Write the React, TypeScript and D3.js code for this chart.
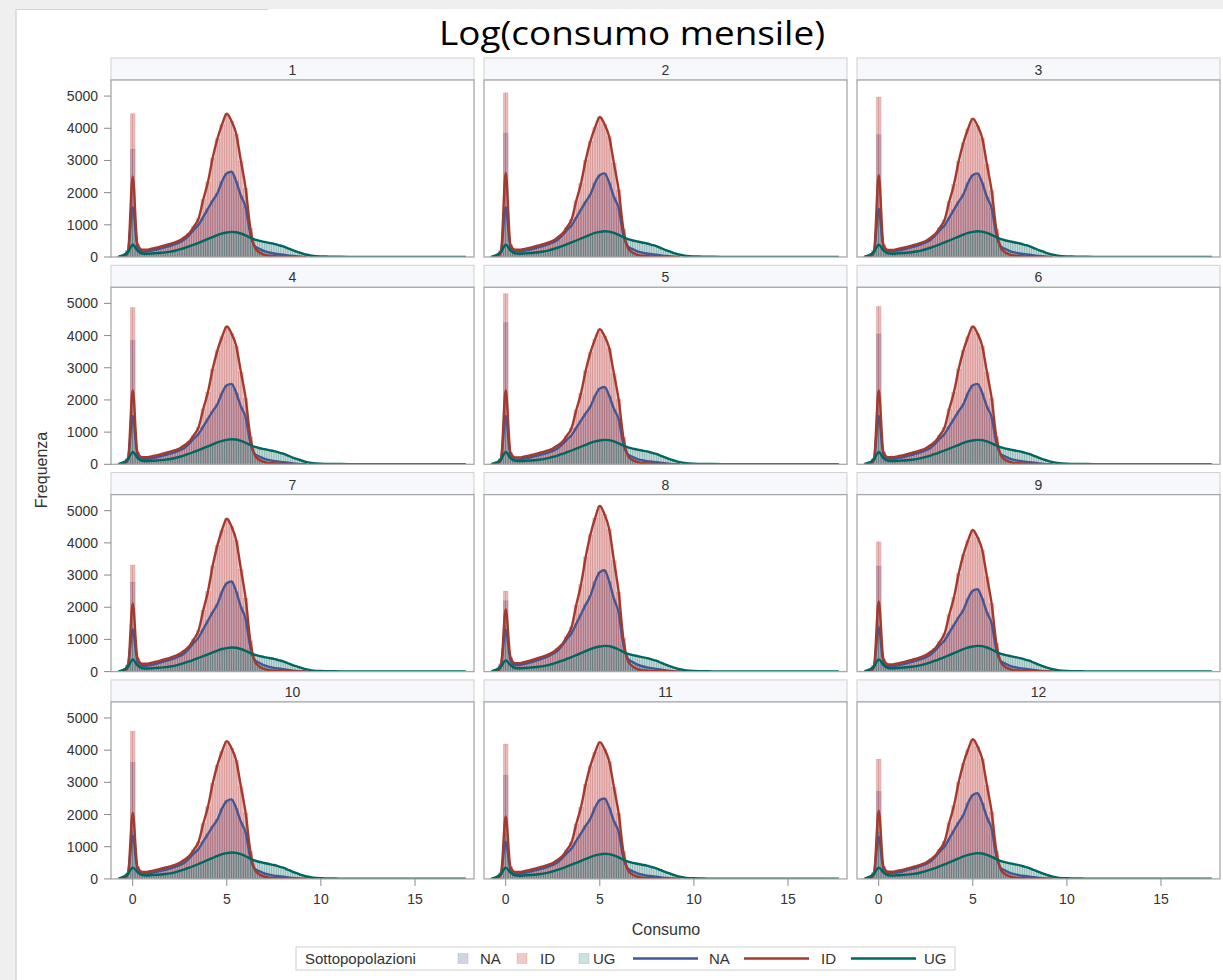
import React from "react";
import * as d3 from "d3";

// ---------------- DATA ----------------
const panels = ["1", "2", "3", "4", "5", "6", "7", "8", "9", "10", "11", "12"];

// histogram bins (panel-1 shape), first bin centred at binStart, width binWidth
const binStart = -0.75;
const binWidth = 0.25;
const spikeIndex = 3; // the bin at Consumo = 0

const idShape = [0, 0, 150, 4450, 400, 230, 230, 260, 290, 330, 370, 410, 460, 520, 620, 740, 950, 1200, 1800, 2350, 3100, 3700, 4150, 4480, 4250, 3850, 3000, 2150, 900, 280, 140, 70, 40, 30, 20, 15, 10, 8, 5, 3, 0];
const naShape = [0, 30, 200, 3350, 300, 170, 170, 200, 230, 270, 310, 350, 400, 460, 540, 680, 850, 1000, 1250, 1500, 1750, 1980, 2350, 2600, 2650, 2350, 1900, 1550, 700, 330, 250, 180, 140, 110, 90, 70, 50, 30, 15, 5, 0];
const ugShape = [10, 60, 150, 1400, 200, 110, 100, 110, 120, 130, 145, 165, 195, 235, 280, 330, 385, 440, 500, 560, 620, 680, 730, 760, 780, 770, 730, 670, 600, 540, 500, 470, 440, 410, 370, 330, 270, 210, 160, 110, 70, 40, 25, 18, 14, 12, 10, 8];
const ugTailX = [11.5, 13, 15, 17.7];
const ugTailV = [5, 4, 3, 3];

// per-panel values
const idSpikeBar = [4450, 5100, 4970, 4870, 5300, 4900, 3310, 2500, 4030, 4590, 4190, 3720];
const naSpikeBar = [3350, 3850, 3800, 3850, 4400, 4050, 2780, 2200, 3280, 3620, 3220, 2720];
const idSpikeLine = [2500, 2620, 2550, 2300, 2300, 2300, 2120, 1940, 2190, 2060, 1940, 2120];
const naSpikeLine = [1550, 1550, 1500, 1500, 1500, 1500, 1310, 1300, 1370, 1340, 1160, 1310];
const ugSpikeLine = [380, 380, 380, 380, 380, 380, 380, 350, 380, 350, 350, 350];
const idPeak = [4450, 4350, 4300, 4280, 4200, 4280, 4750, 5150, 4400, 4280, 4250, 4340];
const naPeak = [2650, 2600, 2600, 2500, 2400, 2500, 2800, 3150, 2560, 2470, 2500, 2660];
const ugPeak = [780, 800, 800, 780, 760, 760, 750, 800, 800, 820, 780, 800];

const yTicks = [0, 1000, 2000, 3000, 4000, 5000];
const xTicks = [0, 5, 10, 15];

// ---------------- STYLE ----------------
const lineColor: Record<string, string> = { NA: "#445694", ID: "#A23A2E", UG: "#01665E" };
const fillColor: Record<string, string> = { NA: "#6F7EB3", ID: "#D05B5B", UG: "#66A5A0" };
const FONT = "'Liberation Sans', Arial, sans-serif";
const W = 1223;
const H = 980;
const colLeft = [111, 484, 857];
const panelW = 363;
const headerTop0 = 58;
const rowStep = 207.3;
const headerH = 22;
const plotH = 177;

type Series = { name: string; bars: number[]; line: [number, number][] };

function build(p: number): Series[] {
  const mk = (name: string, shape: number[], peak: number, spikeBar: number | null, spikeLine: number) => {
    const ref = d3.max(shape.filter((_, i) => i !== spikeIndex)) as number;
    const k = peak / ref;
    const bars = shape.map((v, i) => (i === spikeIndex ? (spikeBar === null ? v * k : spikeBar) : v * k));
    const line: [number, number][] = shape.map((v, i) => [binStart + i * binWidth, i === spikeIndex ? spikeLine : v * k]);
    return { name, bars, line };
  };
  const na = mk("NA", naShape, naPeak[p], naSpikeBar[p], naSpikeLine[p]);
  const id = mk("ID", idShape, idPeak[p], idSpikeBar[p], idSpikeLine[p]);
  const ug = mk("UG", ugShape, ugPeak[p], null, ugSpikeLine[p]);
  const kUg = ugPeak[p] / (d3.max(ugShape.filter((_, i) => i !== spikeIndex)) as number);
  ugTailX.forEach((x, i) => ug.line.push([x, ugTailV[i] * kUg]));
  return [na, id, ug];
}

const x = d3.scaleLinear().domain([-1.153, 18.135]).range([0, panelW]);
const y = d3.scaleLinear().domain([0, 5500]).range([plotH, 0]);
const lineGen = d3
  .line<[number, number]>()
  .x((d) => x(d[0]))
  .y((d) => y(d[1]))
  .curve(d3.curveMonotoneX);

function Panel({ p }: { p: number }) {
  const col = p % 3;
  const row = Math.floor(p / 3);
  const left = colLeft[col];
  const top = headerTop0 + row * rowStep;
  const plotTop = top + headerH;
  const data = build(p);
  const clipId = `clip${p}`;
  return (
    <g>
      <rect x={left} y={top} width={panelW} height={headerH} fill="#f7f8fc" stroke="#cfcfcf" strokeWidth={1} />
      <text x={left + panelW / 2} y={top + headerH / 2 + 1} textAnchor="middle" dominantBaseline="central" fontFamily={FONT} fontSize={14} fill="#333">
        {panels[p]}
      </text>
      <g transform={`translate(${left},${plotTop})`}>
        <defs>
          <clipPath id={clipId}>
            <rect x={0} y={0} width={panelW} height={plotH} />
          </clipPath>
        </defs>
        <rect x={0} y={0} width={panelW} height={plotH} fill="#fff" />
        <g clipPath={`url(#${clipId})`}>
          {data.map((s) =>
            s.bars.map((v, i) => {
              if (v <= 0) return null;
              const x0 = binStart + i * binWidth - binWidth / 2;
              const half = binWidth / 2;
              return [0, 1].map((h) => (
                <rect
                  key={`${s.name}-${i}-${h}`}
                  x={x(x0 + h * half)}
                  y={y(v)}
                  width={x(x0 + (h + 1) * half) - x(x0 + h * half)}
                  height={y(0) - y(v)}
                  fill={fillColor[s.name]}
                  fillOpacity={0.4}
                  stroke={lineColor[s.name]}
                  strokeOpacity={0.25}
                  strokeWidth={0.6}
                />
              ));
            })
          )}
          {data.map((s) => (
            <path key={s.name} d={lineGen(s.line) || ""} fill="none" stroke={lineColor[s.name]} strokeWidth={2.4} strokeLinejoin="round" />
          ))}
        </g>
        <rect x={0} y={0} width={panelW} height={plotH} fill="none" stroke="#a8a8a8" strokeWidth={1.3} />
        {col === 0 &&
          yTicks.map((t) => (
            <g key={t}>
              <line x1={-7} x2={0} y1={y(t)} y2={y(t)} stroke="#8a8a8a" strokeWidth={1} />
              <text x={-13} y={y(t)} textAnchor="end" dominantBaseline="central" fontFamily={FONT} fontSize={14} fill="#333">
                {t}
              </text>
            </g>
          ))}
        {row === 3 &&
          xTicks.map((t) => (
            <g key={t}>
              <line x1={x(t)} x2={x(t)} y1={plotH} y2={plotH + 7} stroke="#8a8a8a" strokeWidth={1} />
              <text x={x(t)} y={plotH + 25} textAnchor="middle" fontFamily={FONT} fontSize={14} fill="#333">
                {t}
              </text>
            </g>
          ))}
      </g>
    </g>
  );
}

function Legend() {
  const cy = 958.5;
  const items: { kind: "box" | "line"; name: string; x: number; tx: number }[] = [
    { kind: "box", name: "NA", x: 458, tx: 480 },
    { kind: "box", name: "ID", x: 517, tx: 540 },
    { kind: "box", name: "UG", x: 579, tx: 593 },
    { kind: "line", name: "NA", x: 633, tx: 709 },
    { kind: "line", name: "ID", x: 744, tx: 821 },
    { kind: "line", name: "UG", x: 851, tx: 924 },
  ];
  return (
    <g>
      <rect x={296} y={947} width={659} height={23} fill="#fff" stroke="#cfcfcf" strokeWidth={1} />
      <text x={305} y={cy} dominantBaseline="central" fontFamily={FONT} fontSize={15} fill="#333">
        Sottopopolazioni
      </text>
      {items.map((it, i) => (
        <g key={i}>
          {it.kind === "box" ? (
            <rect x={it.x} y={cy - 5} width={10} height={10} fill={fillColor[it.name]} fillOpacity={0.33} stroke={lineColor[it.name]} strokeOpacity={0.15} />
          ) : (
            <line x1={it.x} x2={it.x + 65} y1={cy} y2={cy} stroke={lineColor[it.name]} strokeWidth={2.6} />
          )}
          <text x={it.tx} y={cy} dominantBaseline="central" fontFamily={FONT} fontSize={15} fill="#333">
            {it.name}
          </text>
        </g>
      ))}
    </g>
  );
}

export default function App() {
  return (
    <svg width={W} height={H} viewBox={`0 0 ${W} ${H}`} style={{ position: "absolute", left: 0, top: 0, display: "block" }}>
      <rect x={0} y={0} width={W} height={H} fill="#efefef" />
      <rect x={16} y={9} width={W - 16} height={H - 9} fill="#fff" />
      <line x1={16} x2={16} y1={9} y2={H} stroke="#d6d6d6" strokeWidth={1.5} />
      <line x1={16} x2={268} y1={9.5} y2={9.5} stroke="#d6d6d6" strokeWidth={1.2} />
      <text x={632} y={45} textAnchor="middle" fontFamily="'Open Sans', 'Noto Sans', sans-serif" fontWeight={400} fontSize={32} fill="#000" textLength={386} lengthAdjust="spacingAndGlyphs">
        Log(consumo mensile)
      </text>
      {panels.map((_, p) => (
        <Panel key={p} p={p} />
      ))}
      <text transform="translate(47,470) rotate(-90)" textAnchor="middle" fontFamily={FONT} fontSize={16} fill="#333">
        Frequenza
      </text>
      <text x={666} y={935} textAnchor="middle" fontFamily={FONT} fontSize={16} fill="#333">
        Consumo
      </text>
      <Legend />
    </svg>
  );
}
